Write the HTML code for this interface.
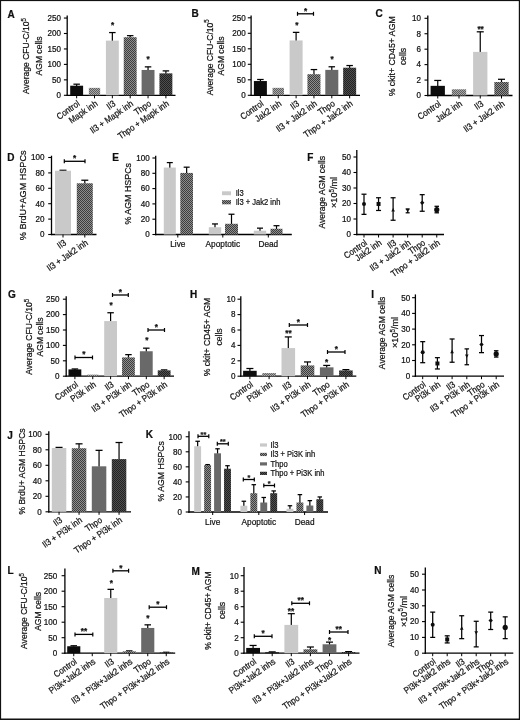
<!DOCTYPE html>
<html lang="en"><head><meta charset="utf-8"><title>Figure</title>
<style>
html,body{margin:0;padding:0;background:#fff;}
body{width:520px;height:720px;overflow:hidden;}
svg{display:block;}
svg text{font-family:"Liberation Sans", Arial, Helvetica, sans-serif;fill:#111;stroke:#111;stroke-width:0.22px;}
</style></head><body>
<svg width="520" height="720" viewBox="0 0 520 720">
<defs>
<filter id="soft" x="0" y="0" width="520" height="720" filterUnits="userSpaceOnUse"><feGaussianBlur stdDeviation="0.35"/></filter>
<pattern id="pInh" width="2" height="2" patternUnits="userSpaceOnUse"><rect width="2" height="2" fill="#a8a8a8"/><rect width="1" height="1" fill="#5e5e5e"/><rect x="1" y="1" width="1" height="1" fill="#5e5e5e"/></pattern>
<pattern id="pIl3i" width="2" height="2" patternUnits="userSpaceOnUse"><rect width="2" height="2" fill="#8e8e8e"/><rect width="1" height="1" fill="#3c3c3c"/><rect x="1" y="1" width="1" height="1" fill="#3c3c3c"/></pattern>
<pattern id="pThpoi" width="2" height="2" patternUnits="userSpaceOnUse"><rect width="2" height="2" fill="#505050"/><rect width="1" height="1" fill="#222"/><rect x="1" y="1" width="1" height="1" fill="#222"/></pattern>
</defs>
<rect x="0" y="0" width="520" height="720" fill="#fff"/>
<g filter="url(#soft)">
<text transform="translate(7.40 17.80) scale(1 1)" font-size="10" text-anchor="start" font-weight="bold">A</text>
<line x1="67.20" y1="15.50" x2="67.20" y2="95.95" stroke="#000" stroke-width="1.3"/>
<line x1="66.55" y1="95.30" x2="175.50" y2="95.30" stroke="#000" stroke-width="1.3"/>
<line x1="63.90" y1="95.30" x2="67.20" y2="95.30" stroke="#000" stroke-width="1.1"/>
<text transform="translate(61.00 98.10) scale(0.95 1)" font-size="8.5" text-anchor="end">0</text>
<line x1="63.90" y1="79.85" x2="67.20" y2="79.85" stroke="#000" stroke-width="1.1"/>
<text transform="translate(61.00 82.65) scale(0.95 1)" font-size="8.5" text-anchor="end">50</text>
<line x1="63.90" y1="64.40" x2="67.20" y2="64.40" stroke="#000" stroke-width="1.1"/>
<text transform="translate(61.00 67.20) scale(0.95 1)" font-size="8.5" text-anchor="end">100</text>
<line x1="63.90" y1="48.95" x2="67.20" y2="48.95" stroke="#000" stroke-width="1.1"/>
<text transform="translate(61.00 51.75) scale(0.95 1)" font-size="8.5" text-anchor="end">150</text>
<line x1="63.90" y1="33.50" x2="67.20" y2="33.50" stroke="#000" stroke-width="1.1"/>
<text transform="translate(61.00 36.30) scale(0.95 1)" font-size="8.5" text-anchor="end">200</text>
<line x1="63.90" y1="18.05" x2="67.20" y2="18.05" stroke="#000" stroke-width="1.1"/>
<text transform="translate(61.00 20.85) scale(0.95 1)" font-size="8.5" text-anchor="end">250</text>
<line x1="76.65" y1="84.18" x2="76.65" y2="86.22" stroke="#000" stroke-width="1.2"/>
<line x1="73.40" y1="84.18" x2="79.90" y2="84.18" stroke="#000" stroke-width="1.25"/>
<rect x="70.20" y="85.72" width="12.90" height="9.58" fill="#0c0c0c"/>
<line x1="76.65" y1="95.30" x2="76.65" y2="98.30" stroke="#000" stroke-width="1.0"/>
<text transform="translate(80.45 105.00) rotate(-35) scale(0.895 1)" font-size="9.0" text-anchor="end">Control</text>
<rect x="88.85" y="87.88" width="11.30" height="7.42" fill="url(#pInh)"/>
<line x1="94.50" y1="95.30" x2="94.50" y2="98.30" stroke="#000" stroke-width="1.0"/>
<text transform="translate(98.30 105.00) rotate(-35) scale(0.895 1)" font-size="9.0" text-anchor="end">Mapk inh</text>
<line x1="112.35" y1="32.57" x2="112.35" y2="41.11" stroke="#000" stroke-width="1.2"/>
<line x1="109.10" y1="32.57" x2="115.60" y2="32.57" stroke="#000" stroke-width="1.25"/>
<rect x="105.90" y="40.61" width="12.90" height="54.69" fill="#c9c9c9"/>
<line x1="112.35" y1="95.30" x2="112.35" y2="98.30" stroke="#000" stroke-width="1.0"/>
<text transform="translate(116.15 105.00) rotate(-35) scale(0.895 1)" font-size="9.0" text-anchor="end">Il3</text>
<line x1="130.20" y1="35.66" x2="130.20" y2="37.71" stroke="#000" stroke-width="1.2"/>
<line x1="126.95" y1="35.66" x2="133.45" y2="35.66" stroke="#000" stroke-width="1.25"/>
<rect x="123.75" y="37.21" width="12.90" height="58.09" fill="url(#pIl3i)"/>
<line x1="130.20" y1="95.30" x2="130.20" y2="98.30" stroke="#000" stroke-width="1.0"/>
<text transform="translate(134.00 105.00) rotate(-35) scale(0.895 1)" font-size="9.0" text-anchor="end">Il3 + Mapk inh</text>
<line x1="148.05" y1="66.87" x2="148.05" y2="70.46" stroke="#000" stroke-width="1.2"/>
<line x1="144.80" y1="66.87" x2="151.30" y2="66.87" stroke="#000" stroke-width="1.25"/>
<rect x="141.60" y="69.96" width="12.90" height="25.34" fill="#696969"/>
<line x1="148.05" y1="95.30" x2="148.05" y2="98.30" stroke="#000" stroke-width="1.0"/>
<text transform="translate(151.85 105.00) rotate(-35) scale(0.895 1)" font-size="9.0" text-anchor="end">Thpo</text>
<line x1="165.90" y1="70.89" x2="165.90" y2="73.86" stroke="#000" stroke-width="1.2"/>
<line x1="162.65" y1="70.89" x2="169.15" y2="70.89" stroke="#000" stroke-width="1.25"/>
<rect x="159.45" y="73.36" width="12.90" height="21.94" fill="url(#pThpoi)"/>
<line x1="165.90" y1="95.30" x2="165.90" y2="98.30" stroke="#000" stroke-width="1.0"/>
<text transform="translate(169.70 105.00) rotate(-35) scale(0.895 1)" font-size="9.0" text-anchor="end">Thpo + Mapk inh</text>
<text transform="translate(112.50 27.90) scale(1 1)" font-size="8.2" text-anchor="middle" font-weight="bold">*</text>
<text transform="translate(148.00 62.40) scale(1 1)" font-size="8.2" text-anchor="middle" font-weight="bold">*</text>
<text transform="translate(29.30 56.00) rotate(-90) scale(0.93 1)" font-size="9.2" text-anchor="middle">Average CFU-C/10<tspan font-size="6.4" dy="-3.2">5</tspan></text>
<text transform="translate(42.20 56.00) rotate(-90) scale(0.93 1)" font-size="9.2" text-anchor="middle">AGM cells</text>
<text transform="translate(191.50 17.30) scale(1 1)" font-size="10" text-anchor="start" font-weight="bold">B</text>
<line x1="251.10" y1="15.50" x2="251.10" y2="95.95" stroke="#000" stroke-width="1.3"/>
<line x1="250.45" y1="95.30" x2="360.00" y2="95.30" stroke="#000" stroke-width="1.3"/>
<line x1="247.80" y1="95.30" x2="251.10" y2="95.30" stroke="#000" stroke-width="1.1"/>
<text transform="translate(245.80 98.10) scale(0.95 1)" font-size="8.5" text-anchor="end">0</text>
<line x1="247.80" y1="79.80" x2="251.10" y2="79.80" stroke="#000" stroke-width="1.1"/>
<text transform="translate(245.80 82.60) scale(0.95 1)" font-size="8.5" text-anchor="end">50</text>
<line x1="247.80" y1="64.30" x2="251.10" y2="64.30" stroke="#000" stroke-width="1.1"/>
<text transform="translate(245.80 67.10) scale(0.95 1)" font-size="8.5" text-anchor="end">100</text>
<line x1="247.80" y1="48.80" x2="251.10" y2="48.80" stroke="#000" stroke-width="1.1"/>
<text transform="translate(245.80 51.60) scale(0.95 1)" font-size="8.5" text-anchor="end">150</text>
<line x1="247.80" y1="33.30" x2="251.10" y2="33.30" stroke="#000" stroke-width="1.1"/>
<text transform="translate(245.80 36.10) scale(0.95 1)" font-size="8.5" text-anchor="end">200</text>
<line x1="247.80" y1="17.80" x2="251.10" y2="17.80" stroke="#000" stroke-width="1.1"/>
<text transform="translate(245.80 20.60) scale(0.95 1)" font-size="8.5" text-anchor="end">250</text>
<line x1="260.40" y1="79.49" x2="260.40" y2="81.54" stroke="#000" stroke-width="1.2"/>
<line x1="257.15" y1="79.49" x2="263.65" y2="79.49" stroke="#000" stroke-width="1.25"/>
<rect x="253.90" y="81.04" width="13.00" height="14.26" fill="#0c0c0c"/>
<line x1="260.40" y1="95.30" x2="260.40" y2="98.30" stroke="#000" stroke-width="1.0"/>
<text transform="translate(264.20 105.00) rotate(-35) scale(0.895 1)" font-size="9.0" text-anchor="end">Control</text>
<rect x="272.55" y="87.86" width="11.40" height="7.44" fill="url(#pInh)"/>
<line x1="278.25" y1="95.30" x2="278.25" y2="98.30" stroke="#000" stroke-width="1.0"/>
<text transform="translate(282.05 105.00) rotate(-35) scale(0.895 1)" font-size="9.0" text-anchor="end">Jak2 inh</text>
<line x1="296.10" y1="32.37" x2="296.10" y2="40.93" stroke="#000" stroke-width="1.2"/>
<line x1="292.85" y1="32.37" x2="299.35" y2="32.37" stroke="#000" stroke-width="1.25"/>
<rect x="289.60" y="40.43" width="13.00" height="54.87" fill="#c9c9c9"/>
<line x1="296.10" y1="95.30" x2="296.10" y2="98.30" stroke="#000" stroke-width="1.0"/>
<text transform="translate(299.90 105.00) rotate(-35) scale(0.895 1)" font-size="9.0" text-anchor="end">Il3</text>
<line x1="313.95" y1="69.57" x2="313.95" y2="74.72" stroke="#000" stroke-width="1.2"/>
<line x1="310.70" y1="69.57" x2="317.20" y2="69.57" stroke="#000" stroke-width="1.25"/>
<rect x="307.45" y="74.22" width="13.00" height="21.08" fill="url(#pIl3i)"/>
<line x1="313.95" y1="95.30" x2="313.95" y2="98.30" stroke="#000" stroke-width="1.0"/>
<text transform="translate(317.75 105.00) rotate(-35) scale(0.895 1)" font-size="9.0" text-anchor="end">Il3 + Jak2 inh</text>
<line x1="331.80" y1="66.78" x2="331.80" y2="70.38" stroke="#000" stroke-width="1.2"/>
<line x1="328.55" y1="66.78" x2="335.05" y2="66.78" stroke="#000" stroke-width="1.25"/>
<rect x="325.30" y="69.88" width="13.00" height="25.42" fill="#696969"/>
<line x1="331.80" y1="95.30" x2="331.80" y2="98.30" stroke="#000" stroke-width="1.0"/>
<text transform="translate(335.60 105.00) rotate(-35) scale(0.895 1)" font-size="9.0" text-anchor="end">Thpo</text>
<line x1="349.65" y1="65.54" x2="349.65" y2="68.21" stroke="#000" stroke-width="1.2"/>
<line x1="346.40" y1="65.54" x2="352.90" y2="65.54" stroke="#000" stroke-width="1.25"/>
<rect x="343.15" y="67.71" width="13.00" height="27.59" fill="url(#pThpoi)"/>
<line x1="349.65" y1="95.30" x2="349.65" y2="98.30" stroke="#000" stroke-width="1.0"/>
<text transform="translate(353.45 105.00) rotate(-35) scale(0.895 1)" font-size="9.0" text-anchor="end">Thpo + Jak2 inh</text>
<text transform="translate(296.80 27.90) scale(1 1)" font-size="8.2" text-anchor="middle" font-weight="bold">*</text>
<text transform="translate(332.00 62.40) scale(1 1)" font-size="8.2" text-anchor="middle" font-weight="bold">*</text>
<line x1="297.50" y1="13.80" x2="313.50" y2="13.80" stroke="#000" stroke-width="1.3"/>
<line x1="297.50" y1="11.80" x2="297.50" y2="15.80" stroke="#000" stroke-width="1.2"/>
<line x1="313.50" y1="11.80" x2="313.50" y2="15.80" stroke="#000" stroke-width="1.2"/>
<text transform="translate(305.50 13.50) scale(1 1)" font-size="8.2" text-anchor="middle" font-weight="bold">*</text>
<text transform="translate(212.50 57.30) rotate(-90) scale(0.93 1)" font-size="9.2" text-anchor="middle">Average CFU-C/10<tspan font-size="6.4" dy="-3.2">5</tspan></text>
<text transform="translate(224.40 56.00) rotate(-90) scale(0.93 1)" font-size="9.2" text-anchor="middle">AGM cells</text>
<text transform="translate(375.50 17.30) scale(1 1)" font-size="10" text-anchor="start" font-weight="bold">C</text>
<line x1="427.80" y1="15.50" x2="427.80" y2="96.15" stroke="#000" stroke-width="1.3"/>
<line x1="427.15" y1="95.50" x2="512.50" y2="95.50" stroke="#000" stroke-width="1.3"/>
<line x1="424.50" y1="95.50" x2="427.80" y2="95.50" stroke="#000" stroke-width="1.1"/>
<text transform="translate(421.10 98.30) scale(0.95 1)" font-size="8.5" text-anchor="end">0</text>
<line x1="424.50" y1="80.06" x2="427.80" y2="80.06" stroke="#000" stroke-width="1.1"/>
<text transform="translate(421.10 82.86) scale(0.95 1)" font-size="8.5" text-anchor="end">2</text>
<line x1="424.50" y1="64.62" x2="427.80" y2="64.62" stroke="#000" stroke-width="1.1"/>
<text transform="translate(421.10 67.42) scale(0.95 1)" font-size="8.5" text-anchor="end">4</text>
<line x1="424.50" y1="49.18" x2="427.80" y2="49.18" stroke="#000" stroke-width="1.1"/>
<text transform="translate(421.10 51.98) scale(0.95 1)" font-size="8.5" text-anchor="end">6</text>
<line x1="424.50" y1="33.74" x2="427.80" y2="33.74" stroke="#000" stroke-width="1.1"/>
<text transform="translate(421.10 36.54) scale(0.95 1)" font-size="8.5" text-anchor="end">8</text>
<line x1="424.50" y1="18.30" x2="427.80" y2="18.30" stroke="#000" stroke-width="1.1"/>
<text transform="translate(421.10 21.10) scale(0.95 1)" font-size="8.5" text-anchor="end">10</text>
<line x1="437.75" y1="80.45" x2="437.75" y2="86.35" stroke="#000" stroke-width="1.2"/>
<line x1="434.25" y1="80.45" x2="441.25" y2="80.45" stroke="#000" stroke-width="1.25"/>
<rect x="430.60" y="85.85" width="14.30" height="9.65" fill="#0c0c0c"/>
<line x1="437.75" y1="95.50" x2="437.75" y2="98.50" stroke="#000" stroke-width="1.0"/>
<text transform="translate(441.55 105.20) rotate(-35) scale(0.895 1)" font-size="9.0" text-anchor="end">Control</text>
<rect x="451.85" y="89.32" width="14.30" height="6.18" fill="url(#pInh)"/>
<line x1="459.00" y1="95.50" x2="459.00" y2="98.50" stroke="#000" stroke-width="1.0"/>
<text transform="translate(462.80 105.20) rotate(-35) scale(0.895 1)" font-size="9.0" text-anchor="end">Jak2 inh</text>
<line x1="480.25" y1="31.81" x2="480.25" y2="52.38" stroke="#000" stroke-width="1.2"/>
<line x1="476.75" y1="31.81" x2="483.75" y2="31.81" stroke="#000" stroke-width="1.25"/>
<rect x="473.10" y="51.88" width="14.30" height="43.62" fill="#c9c9c9"/>
<line x1="480.25" y1="95.50" x2="480.25" y2="98.50" stroke="#000" stroke-width="1.0"/>
<text transform="translate(484.05 105.20) rotate(-35) scale(0.895 1)" font-size="9.0" text-anchor="end">Il3</text>
<line x1="501.50" y1="79.29" x2="501.50" y2="82.49" stroke="#000" stroke-width="1.2"/>
<line x1="498.00" y1="79.29" x2="505.00" y2="79.29" stroke="#000" stroke-width="1.25"/>
<rect x="494.35" y="81.99" width="14.30" height="13.51" fill="url(#pIl3i)"/>
<line x1="501.50" y1="95.50" x2="501.50" y2="98.50" stroke="#000" stroke-width="1.0"/>
<text transform="translate(505.30 105.20) rotate(-35) scale(0.895 1)" font-size="9.0" text-anchor="end">Il3 + Jak2 inh</text>
<text transform="translate(480.60 31.90) scale(1 1)" font-size="8.2" text-anchor="middle" font-weight="bold">**</text>
<text transform="translate(395.20 56.30) rotate(-90) scale(0.95 1)" font-size="9.2" text-anchor="middle">% ckit+ CD45+ AGM</text>
<text transform="translate(406.20 56.50) rotate(-90) scale(0.93 1)" font-size="9.2" text-anchor="middle">cells</text>
<text transform="translate(7.30 160.80) scale(1 1)" font-size="10" text-anchor="start" font-weight="bold">D</text>
<line x1="51.50" y1="155.70" x2="51.50" y2="235.15" stroke="#000" stroke-width="1.3"/>
<line x1="50.85" y1="234.50" x2="96.50" y2="234.50" stroke="#000" stroke-width="1.3"/>
<line x1="48.20" y1="234.50" x2="51.50" y2="234.50" stroke="#000" stroke-width="1.1"/>
<text transform="translate(44.50 237.30) scale(0.95 1)" font-size="8.5" text-anchor="end">0</text>
<line x1="48.20" y1="219.10" x2="51.50" y2="219.10" stroke="#000" stroke-width="1.1"/>
<text transform="translate(44.50 221.90) scale(0.95 1)" font-size="8.5" text-anchor="end">20</text>
<line x1="48.20" y1="203.70" x2="51.50" y2="203.70" stroke="#000" stroke-width="1.1"/>
<text transform="translate(44.50 206.50) scale(0.95 1)" font-size="8.5" text-anchor="end">40</text>
<line x1="48.20" y1="188.30" x2="51.50" y2="188.30" stroke="#000" stroke-width="1.1"/>
<text transform="translate(44.50 191.10) scale(0.95 1)" font-size="8.5" text-anchor="end">60</text>
<line x1="48.20" y1="172.90" x2="51.50" y2="172.90" stroke="#000" stroke-width="1.1"/>
<text transform="translate(44.50 175.70) scale(0.95 1)" font-size="8.5" text-anchor="end">80</text>
<line x1="48.20" y1="157.50" x2="51.50" y2="157.50" stroke="#000" stroke-width="1.1"/>
<text transform="translate(44.50 160.30) scale(0.95 1)" font-size="8.5" text-anchor="end">100</text>
<line x1="63.00" y1="170.28" x2="63.00" y2="171.24" stroke="#000" stroke-width="1.2"/>
<line x1="59.50" y1="170.28" x2="66.50" y2="170.28" stroke="#000" stroke-width="1.25"/>
<rect x="55.00" y="170.74" width="16.00" height="63.76" fill="#c9c9c9"/>
<line x1="63.00" y1="234.50" x2="63.00" y2="237.50" stroke="#000" stroke-width="1.0"/>
<text transform="translate(66.80 244.20) rotate(-35) scale(0.895 1)" font-size="9.0" text-anchor="end">Il3</text>
<line x1="84.80" y1="180.22" x2="84.80" y2="183.80" stroke="#000" stroke-width="1.2"/>
<line x1="81.30" y1="180.22" x2="88.30" y2="180.22" stroke="#000" stroke-width="1.25"/>
<rect x="76.80" y="183.30" width="16.00" height="51.20" fill="url(#pIl3i)"/>
<line x1="84.80" y1="234.50" x2="84.80" y2="237.50" stroke="#000" stroke-width="1.0"/>
<text transform="translate(88.60 244.20) rotate(-35) scale(0.895 1)" font-size="9.0" text-anchor="end">Il3 + Jak2 inh</text>
<line x1="64.30" y1="161.30" x2="85.00" y2="161.30" stroke="#000" stroke-width="1.3"/>
<line x1="64.30" y1="159.30" x2="64.30" y2="163.30" stroke="#000" stroke-width="1.2"/>
<line x1="85.00" y1="159.30" x2="85.00" y2="163.30" stroke="#000" stroke-width="1.2"/>
<text transform="translate(74.65 161.00) scale(1 1)" font-size="8.2" text-anchor="middle" font-weight="bold">*</text>
<text transform="translate(25.50 195.30) rotate(-90) scale(0.99 1)" font-size="9.2" text-anchor="middle">% BrdU+AGM HSPCs</text>
<text transform="translate(112.30 161.00) scale(1 1)" font-size="10" text-anchor="start" font-weight="bold">E</text>
<line x1="155.70" y1="155.70" x2="155.70" y2="235.15" stroke="#000" stroke-width="1.3"/>
<line x1="155.05" y1="234.50" x2="291.80" y2="234.50" stroke="#000" stroke-width="1.3"/>
<line x1="152.40" y1="234.50" x2="155.70" y2="234.50" stroke="#000" stroke-width="1.1"/>
<text transform="translate(149.80 237.30) scale(0.95 1)" font-size="8.5" text-anchor="end">0</text>
<line x1="152.40" y1="219.20" x2="155.70" y2="219.20" stroke="#000" stroke-width="1.1"/>
<text transform="translate(149.80 222.00) scale(0.95 1)" font-size="8.5" text-anchor="end">20</text>
<line x1="152.40" y1="203.90" x2="155.70" y2="203.90" stroke="#000" stroke-width="1.1"/>
<text transform="translate(149.80 206.70) scale(0.95 1)" font-size="8.5" text-anchor="end">40</text>
<line x1="152.40" y1="188.60" x2="155.70" y2="188.60" stroke="#000" stroke-width="1.1"/>
<text transform="translate(149.80 191.40) scale(0.95 1)" font-size="8.5" text-anchor="end">60</text>
<line x1="152.40" y1="173.30" x2="155.70" y2="173.30" stroke="#000" stroke-width="1.1"/>
<text transform="translate(149.80 176.10) scale(0.95 1)" font-size="8.5" text-anchor="end">80</text>
<line x1="152.40" y1="158.00" x2="155.70" y2="158.00" stroke="#000" stroke-width="1.1"/>
<text transform="translate(149.80 160.80) scale(0.95 1)" font-size="8.5" text-anchor="end">100</text>
<line x1="169.80" y1="162.59" x2="169.80" y2="168.06" stroke="#000" stroke-width="1.2"/>
<line x1="166.80" y1="162.59" x2="172.80" y2="162.59" stroke="#000" stroke-width="1.25"/>
<rect x="163.80" y="167.56" width="12.00" height="66.94" fill="#c9c9c9"/>
<line x1="186.65" y1="167.18" x2="186.65" y2="173.42" stroke="#000" stroke-width="1.2"/>
<line x1="183.65" y1="167.18" x2="189.65" y2="167.18" stroke="#000" stroke-width="1.25"/>
<rect x="180.30" y="172.92" width="12.70" height="61.58" fill="url(#pIl3i)"/>
<line x1="215.00" y1="223.94" x2="215.00" y2="227.73" stroke="#000" stroke-width="1.2"/>
<line x1="212.00" y1="223.94" x2="218.00" y2="223.94" stroke="#000" stroke-width="1.25"/>
<rect x="208.80" y="227.23" width="12.40" height="7.27" fill="#c9c9c9"/>
<line x1="231.50" y1="214.23" x2="231.50" y2="224.29" stroke="#000" stroke-width="1.2"/>
<line x1="228.50" y1="214.23" x2="234.50" y2="214.23" stroke="#000" stroke-width="1.25"/>
<rect x="225.00" y="223.79" width="13.00" height="10.71" fill="url(#pIl3i)"/>
<line x1="260.00" y1="228.15" x2="260.00" y2="231.18" stroke="#000" stroke-width="1.2"/>
<line x1="257.00" y1="228.15" x2="263.00" y2="228.15" stroke="#000" stroke-width="1.25"/>
<rect x="253.80" y="230.68" width="12.40" height="3.82" fill="#c9c9c9"/>
<line x1="276.50" y1="225.70" x2="276.50" y2="229.26" stroke="#000" stroke-width="1.2"/>
<line x1="273.50" y1="225.70" x2="279.50" y2="225.70" stroke="#000" stroke-width="1.25"/>
<rect x="270.50" y="228.76" width="12.00" height="5.74" fill="url(#pIl3i)"/>
<line x1="177.80" y1="234.50" x2="177.80" y2="237.50" stroke="#000" stroke-width="1.0"/>
<text transform="translate(177.80 246.50) scale(0.94 1)" font-size="8.8" text-anchor="middle">Live</text>
<line x1="222.80" y1="234.50" x2="222.80" y2="237.50" stroke="#000" stroke-width="1.0"/>
<text transform="translate(222.80 246.50) scale(0.94 1)" font-size="8.8" text-anchor="middle">Apoptotic</text>
<line x1="268.30" y1="234.50" x2="268.30" y2="237.50" stroke="#000" stroke-width="1.0"/>
<text transform="translate(268.30 246.50) scale(0.94 1)" font-size="8.8" text-anchor="middle">Dead</text>
<rect x="222" y="191.3" width="9" height="3.9" fill="#c9c9c9"/>
<rect x="222" y="200.1" width="9" height="4.2" fill="url(#pIl3i)"/>
<text transform="translate(235.70 196.00) scale(0.9 1)" font-size="8.4" text-anchor="start">Il3</text>
<text transform="translate(235.70 204.90) scale(0.9 1)" font-size="8.4" text-anchor="start">Il3 + Jak2 inh</text>
<text transform="translate(131.20 193.80) rotate(-90) scale(0.965 1)" font-size="9.2" text-anchor="middle">% AGM HSPCs</text>
<text transform="translate(307.20 160.70) scale(1 1)" font-size="10" text-anchor="start" font-weight="bold">F</text>
<line x1="356.80" y1="150.00" x2="356.80" y2="235.15" stroke="#000" stroke-width="1.3"/>
<line x1="356.15" y1="234.50" x2="444.00" y2="234.50" stroke="#000" stroke-width="1.3"/>
<line x1="353.50" y1="234.50" x2="356.80" y2="234.50" stroke="#000" stroke-width="1.1"/>
<text transform="translate(350.90 237.30) scale(0.95 1)" font-size="8.5" text-anchor="end">0</text>
<line x1="353.50" y1="219.00" x2="356.80" y2="219.00" stroke="#000" stroke-width="1.1"/>
<text transform="translate(350.90 221.80) scale(0.95 1)" font-size="8.5" text-anchor="end">10</text>
<line x1="353.50" y1="203.50" x2="356.80" y2="203.50" stroke="#000" stroke-width="1.1"/>
<text transform="translate(350.90 206.30) scale(0.95 1)" font-size="8.5" text-anchor="end">20</text>
<line x1="353.50" y1="188.00" x2="356.80" y2="188.00" stroke="#000" stroke-width="1.1"/>
<text transform="translate(350.90 190.80) scale(0.95 1)" font-size="8.5" text-anchor="end">30</text>
<line x1="353.50" y1="172.50" x2="356.80" y2="172.50" stroke="#000" stroke-width="1.1"/>
<text transform="translate(350.90 175.30) scale(0.95 1)" font-size="8.5" text-anchor="end">40</text>
<line x1="353.50" y1="157.00" x2="356.80" y2="157.00" stroke="#000" stroke-width="1.1"/>
<text transform="translate(350.90 159.80) scale(0.95 1)" font-size="8.5" text-anchor="end">50</text>
<line x1="364.00" y1="194.20" x2="364.00" y2="214.35" stroke="#000" stroke-width="1.25"/>
<line x1="361.50" y1="194.20" x2="366.50" y2="194.20" stroke="#000" stroke-width="1.25"/>
<line x1="361.50" y1="214.35" x2="366.50" y2="214.35" stroke="#000" stroke-width="1.25"/>
<circle cx="364.00" cy="203.97" r="2.0" fill="#111"/>
<line x1="364.00" y1="234.50" x2="364.00" y2="237.50" stroke="#000" stroke-width="1.0"/>
<text transform="translate(367.80 244.20) rotate(-35) scale(0.895 1)" font-size="9.0" text-anchor="end">Control</text>
<line x1="378.55" y1="197.76" x2="378.55" y2="210.47" stroke="#000" stroke-width="1.25"/>
<line x1="376.05" y1="197.76" x2="381.05" y2="197.76" stroke="#000" stroke-width="1.25"/>
<line x1="376.05" y1="210.47" x2="381.05" y2="210.47" stroke="#000" stroke-width="1.25"/>
<rect x="376.55" y="201.97" width="4.0" height="4.0" fill="#111"/>
<line x1="378.55" y1="234.50" x2="378.55" y2="237.50" stroke="#000" stroke-width="1.0"/>
<text transform="translate(382.35 244.20) rotate(-35) scale(0.895 1)" font-size="9.0" text-anchor="end">Jak2 inh</text>
<line x1="393.10" y1="197.76" x2="393.10" y2="220.24" stroke="#000" stroke-width="1.25"/>
<line x1="390.60" y1="197.76" x2="395.60" y2="197.76" stroke="#000" stroke-width="1.25"/>
<line x1="390.60" y1="220.24" x2="395.60" y2="220.24" stroke="#000" stroke-width="1.25"/>
<path d="M391.30 211.50L394.90 211.50L393.10 207.90Z" fill="#111"/>
<line x1="393.10" y1="234.50" x2="393.10" y2="237.50" stroke="#000" stroke-width="1.0"/>
<text transform="translate(396.90 244.20) rotate(-35) scale(0.895 1)" font-size="9.0" text-anchor="end">Il3</text>
<line x1="407.65" y1="208.93" x2="407.65" y2="212.80" stroke="#000" stroke-width="1.25"/>
<line x1="405.65" y1="208.93" x2="409.65" y2="208.93" stroke="#000" stroke-width="1.25"/>
<line x1="405.65" y1="212.80" x2="409.65" y2="212.80" stroke="#000" stroke-width="1.25"/>
<path d="M405.85 208.98L409.45 208.98L407.65 212.59Z" fill="#111"/>
<line x1="407.65" y1="234.50" x2="407.65" y2="237.50" stroke="#000" stroke-width="1.0"/>
<text transform="translate(411.45 244.20) rotate(-35) scale(0.895 1)" font-size="9.0" text-anchor="end">Il3 + Jak2 inh</text>
<line x1="422.20" y1="194.66" x2="422.20" y2="211.25" stroke="#000" stroke-width="1.25"/>
<line x1="419.70" y1="194.66" x2="424.70" y2="194.66" stroke="#000" stroke-width="1.25"/>
<line x1="419.70" y1="211.25" x2="424.70" y2="211.25" stroke="#000" stroke-width="1.25"/>
<path d="M420.00 202.72L422.20 200.53L424.40 202.72L422.20 204.92Z" fill="#111"/>
<line x1="422.20" y1="234.50" x2="422.20" y2="237.50" stroke="#000" stroke-width="1.0"/>
<text transform="translate(426.00 244.20) rotate(-35) scale(0.895 1)" font-size="9.0" text-anchor="end">Thpo</text>
<line x1="436.75" y1="206.29" x2="436.75" y2="212.80" stroke="#000" stroke-width="1.25"/>
<line x1="434.50" y1="206.29" x2="439.00" y2="206.29" stroke="#000" stroke-width="1.25"/>
<line x1="434.50" y1="212.80" x2="439.00" y2="212.80" stroke="#000" stroke-width="1.25"/>
<circle cx="436.75" cy="209.70" r="2.6" fill="#111"/>
<line x1="436.75" y1="234.50" x2="436.75" y2="237.50" stroke="#000" stroke-width="1.0"/>
<text transform="translate(440.55 244.20) rotate(-35) scale(0.895 1)" font-size="9.0" text-anchor="end">Thpo + Jak2 inh</text>
<text transform="translate(325.00 192.30) rotate(-90) scale(0.93 1)" font-size="9.2" text-anchor="middle">Average AGM cells</text>
<text transform="translate(337.20 192.40) rotate(-90) scale(0.99 1)" font-size="9.2" text-anchor="middle">×10<tspan font-size="6.4" dy="-3.2">5</tspan><tspan dy="3.2">/ml</tspan></text>
<text transform="translate(8.00 298.30) scale(1 1)" font-size="10" text-anchor="start" font-weight="bold">G</text>
<line x1="66.20" y1="296.30" x2="66.20" y2="376.85" stroke="#000" stroke-width="1.3"/>
<line x1="65.55" y1="376.20" x2="174.00" y2="376.20" stroke="#000" stroke-width="1.3"/>
<line x1="62.90" y1="376.20" x2="66.20" y2="376.20" stroke="#000" stroke-width="1.1"/>
<text transform="translate(59.40 379.00) scale(0.95 1)" font-size="8.5" text-anchor="end">0</text>
<line x1="62.90" y1="360.80" x2="66.20" y2="360.80" stroke="#000" stroke-width="1.1"/>
<text transform="translate(59.40 363.60) scale(0.95 1)" font-size="8.5" text-anchor="end">50</text>
<line x1="62.90" y1="345.40" x2="66.20" y2="345.40" stroke="#000" stroke-width="1.1"/>
<text transform="translate(59.40 348.20) scale(0.95 1)" font-size="8.5" text-anchor="end">100</text>
<line x1="62.90" y1="330.00" x2="66.20" y2="330.00" stroke="#000" stroke-width="1.1"/>
<text transform="translate(59.40 332.80) scale(0.95 1)" font-size="8.5" text-anchor="end">150</text>
<line x1="62.90" y1="314.60" x2="66.20" y2="314.60" stroke="#000" stroke-width="1.1"/>
<text transform="translate(59.40 317.40) scale(0.95 1)" font-size="8.5" text-anchor="end">200</text>
<line x1="62.90" y1="299.20" x2="66.20" y2="299.20" stroke="#000" stroke-width="1.1"/>
<text transform="translate(59.40 302.00) scale(0.95 1)" font-size="8.5" text-anchor="end">250</text>
<line x1="74.90" y1="368.96" x2="74.90" y2="369.92" stroke="#000" stroke-width="1.2"/>
<line x1="71.65" y1="368.96" x2="78.15" y2="368.96" stroke="#000" stroke-width="1.25"/>
<rect x="68.50" y="369.42" width="12.80" height="6.78" fill="#0c0c0c"/>
<line x1="74.90" y1="376.20" x2="74.90" y2="379.20" stroke="#000" stroke-width="1.0"/>
<text transform="translate(78.70 385.90) rotate(-35) scale(0.895 1)" font-size="9.0" text-anchor="end">Control</text>
<rect x="87.15" y="374.66" width="11.20" height="1.54" fill="url(#pInh)"/>
<line x1="92.75" y1="376.20" x2="92.75" y2="379.20" stroke="#000" stroke-width="1.0"/>
<text transform="translate(96.55 385.90) rotate(-35) scale(0.895 1)" font-size="9.0" text-anchor="end">Pi3k inh</text>
<line x1="110.60" y1="312.75" x2="110.60" y2="321.57" stroke="#000" stroke-width="1.2"/>
<line x1="107.35" y1="312.75" x2="113.85" y2="312.75" stroke="#000" stroke-width="1.25"/>
<rect x="104.20" y="321.07" width="12.80" height="55.13" fill="#c9c9c9"/>
<line x1="110.60" y1="376.20" x2="110.60" y2="379.20" stroke="#000" stroke-width="1.0"/>
<text transform="translate(114.40 385.90) rotate(-35) scale(0.895 1)" font-size="9.0" text-anchor="end">Il3</text>
<line x1="128.45" y1="354.64" x2="128.45" y2="357.91" stroke="#000" stroke-width="1.2"/>
<line x1="125.20" y1="354.64" x2="131.70" y2="354.64" stroke="#000" stroke-width="1.25"/>
<rect x="122.05" y="357.41" width="12.80" height="18.79" fill="url(#pIl3i)"/>
<line x1="128.45" y1="376.20" x2="128.45" y2="379.20" stroke="#000" stroke-width="1.0"/>
<text transform="translate(132.25 385.90) rotate(-35) scale(0.895 1)" font-size="9.0" text-anchor="end">Il3 + Pi3k inh</text>
<line x1="146.30" y1="348.17" x2="146.30" y2="351.75" stroke="#000" stroke-width="1.2"/>
<line x1="143.05" y1="348.17" x2="149.55" y2="348.17" stroke="#000" stroke-width="1.25"/>
<rect x="139.90" y="351.25" width="12.80" height="24.95" fill="#696969"/>
<line x1="146.30" y1="376.20" x2="146.30" y2="379.20" stroke="#000" stroke-width="1.0"/>
<text transform="translate(150.10 385.90) rotate(-35) scale(0.895 1)" font-size="9.0" text-anchor="end">Thpo</text>
<line x1="164.15" y1="369.89" x2="164.15" y2="370.85" stroke="#000" stroke-width="1.2"/>
<line x1="160.90" y1="369.89" x2="167.40" y2="369.89" stroke="#000" stroke-width="1.25"/>
<rect x="157.75" y="370.35" width="12.80" height="5.85" fill="url(#pThpoi)"/>
<line x1="164.15" y1="376.20" x2="164.15" y2="379.20" stroke="#000" stroke-width="1.0"/>
<text transform="translate(167.95 385.90) rotate(-35) scale(0.895 1)" font-size="9.0" text-anchor="end">Thpo + Pi3k inh</text>
<text transform="translate(111.00 308.40) scale(1 1)" font-size="8.2" text-anchor="middle" font-weight="bold">*</text>
<text transform="translate(146.80 343.20) scale(1 1)" font-size="8.2" text-anchor="middle" font-weight="bold">*</text>
<line x1="75.00" y1="357.50" x2="92.50" y2="357.50" stroke="#000" stroke-width="1.3"/>
<line x1="75.00" y1="355.50" x2="75.00" y2="359.50" stroke="#000" stroke-width="1.2"/>
<line x1="92.50" y1="355.50" x2="92.50" y2="359.50" stroke="#000" stroke-width="1.2"/>
<text transform="translate(83.75 357.20) scale(1 1)" font-size="8.2" text-anchor="middle" font-weight="bold">*</text>
<line x1="112.50" y1="295.00" x2="128.30" y2="295.00" stroke="#000" stroke-width="1.3"/>
<line x1="112.50" y1="293.00" x2="112.50" y2="297.00" stroke="#000" stroke-width="1.2"/>
<line x1="128.30" y1="293.00" x2="128.30" y2="297.00" stroke="#000" stroke-width="1.2"/>
<text transform="translate(120.40 294.70) scale(1 1)" font-size="8.2" text-anchor="middle" font-weight="bold">*</text>
<line x1="148.00" y1="330.00" x2="164.50" y2="330.00" stroke="#000" stroke-width="1.3"/>
<line x1="148.00" y1="328.00" x2="148.00" y2="332.00" stroke="#000" stroke-width="1.2"/>
<line x1="164.50" y1="328.00" x2="164.50" y2="332.00" stroke="#000" stroke-width="1.2"/>
<text transform="translate(156.25 329.70) scale(1 1)" font-size="8.2" text-anchor="middle" font-weight="bold">*</text>
<text transform="translate(31.90 336.80) rotate(-90) scale(0.93 1)" font-size="9.2" text-anchor="middle">Average CFU-C/10<tspan font-size="6.4" dy="-3.2">5</tspan></text>
<text transform="translate(42.90 337.00) rotate(-90) scale(0.93 1)" font-size="9.2" text-anchor="middle">AGM cells</text>
<text transform="translate(190.00 298.30) scale(1 1)" font-size="10" text-anchor="start" font-weight="bold">H</text>
<line x1="240.80" y1="296.30" x2="240.80" y2="376.85" stroke="#000" stroke-width="1.3"/>
<line x1="240.15" y1="376.20" x2="356.30" y2="376.20" stroke="#000" stroke-width="1.3"/>
<line x1="237.50" y1="376.20" x2="240.80" y2="376.20" stroke="#000" stroke-width="1.1"/>
<text transform="translate(235.60 379.00) scale(0.95 1)" font-size="8.5" text-anchor="end">0</text>
<line x1="237.50" y1="360.80" x2="240.80" y2="360.80" stroke="#000" stroke-width="1.1"/>
<text transform="translate(235.60 363.60) scale(0.95 1)" font-size="8.5" text-anchor="end">2</text>
<line x1="237.50" y1="345.40" x2="240.80" y2="345.40" stroke="#000" stroke-width="1.1"/>
<text transform="translate(235.60 348.20) scale(0.95 1)" font-size="8.5" text-anchor="end">4</text>
<line x1="237.50" y1="330.00" x2="240.80" y2="330.00" stroke="#000" stroke-width="1.1"/>
<text transform="translate(235.60 332.80) scale(0.95 1)" font-size="8.5" text-anchor="end">6</text>
<line x1="237.50" y1="314.60" x2="240.80" y2="314.60" stroke="#000" stroke-width="1.1"/>
<text transform="translate(235.60 317.40) scale(0.95 1)" font-size="8.5" text-anchor="end">8</text>
<line x1="237.50" y1="299.20" x2="240.80" y2="299.20" stroke="#000" stroke-width="1.1"/>
<text transform="translate(235.60 302.00) scale(0.95 1)" font-size="8.5" text-anchor="end">10</text>
<line x1="249.90" y1="368.50" x2="249.90" y2="371.31" stroke="#000" stroke-width="1.2"/>
<line x1="246.40" y1="368.50" x2="253.40" y2="368.50" stroke="#000" stroke-width="1.25"/>
<rect x="243.10" y="370.81" width="13.60" height="5.39" fill="#0c0c0c"/>
<line x1="249.90" y1="376.20" x2="249.90" y2="379.20" stroke="#000" stroke-width="1.0"/>
<text transform="translate(253.70 385.90) rotate(-35) scale(0.895 1)" font-size="9.0" text-anchor="end">Control</text>
<rect x="262.30" y="373.12" width="13.60" height="3.08" fill="url(#pInh)"/>
<line x1="269.10" y1="376.20" x2="269.10" y2="379.20" stroke="#000" stroke-width="1.0"/>
<text transform="translate(272.90 385.90) rotate(-35) scale(0.895 1)" font-size="9.0" text-anchor="end">Pi3k inh</text>
<line x1="288.30" y1="336.93" x2="288.30" y2="348.59" stroke="#000" stroke-width="1.2"/>
<line x1="284.80" y1="336.93" x2="291.80" y2="336.93" stroke="#000" stroke-width="1.25"/>
<rect x="281.50" y="348.09" width="13.60" height="28.11" fill="#c9c9c9"/>
<line x1="288.30" y1="376.20" x2="288.30" y2="379.20" stroke="#000" stroke-width="1.0"/>
<text transform="translate(292.10 385.90) rotate(-35) scale(0.895 1)" font-size="9.0" text-anchor="end">Il3</text>
<line x1="307.50" y1="361.95" x2="307.50" y2="365.92" stroke="#000" stroke-width="1.2"/>
<line x1="304.00" y1="361.95" x2="311.00" y2="361.95" stroke="#000" stroke-width="1.25"/>
<rect x="300.70" y="365.42" width="13.60" height="10.78" fill="url(#pIl3i)"/>
<line x1="307.50" y1="376.20" x2="307.50" y2="379.20" stroke="#000" stroke-width="1.0"/>
<text transform="translate(311.30 385.90) rotate(-35) scale(0.895 1)" font-size="9.0" text-anchor="end">Il3 + Pi3k inh</text>
<line x1="326.70" y1="365.42" x2="326.70" y2="367.84" stroke="#000" stroke-width="1.2"/>
<line x1="323.20" y1="365.42" x2="330.20" y2="365.42" stroke="#000" stroke-width="1.25"/>
<rect x="319.90" y="367.34" width="13.60" height="8.86" fill="#696969"/>
<line x1="326.70" y1="376.20" x2="326.70" y2="379.20" stroke="#000" stroke-width="1.0"/>
<text transform="translate(330.50 385.90) rotate(-35) scale(0.895 1)" font-size="9.0" text-anchor="end">Thpo</text>
<line x1="345.90" y1="369.65" x2="345.90" y2="370.93" stroke="#000" stroke-width="1.2"/>
<line x1="342.40" y1="369.65" x2="349.40" y2="369.65" stroke="#000" stroke-width="1.25"/>
<rect x="339.10" y="370.43" width="13.60" height="5.77" fill="url(#pThpoi)"/>
<line x1="345.90" y1="376.20" x2="345.90" y2="379.20" stroke="#000" stroke-width="1.0"/>
<text transform="translate(349.70 385.90) rotate(-35) scale(0.895 1)" font-size="9.0" text-anchor="end">Thpo + Pi3k inh</text>
<text transform="translate(288.50 336.40) scale(1 1)" font-size="8.2" text-anchor="middle" font-weight="bold">**</text>
<text transform="translate(326.50 365.20) scale(1 1)" font-size="8.2" text-anchor="middle" font-weight="bold">*</text>
<line x1="289.30" y1="325.00" x2="307.50" y2="325.00" stroke="#000" stroke-width="1.3"/>
<line x1="289.30" y1="323.00" x2="289.30" y2="327.00" stroke="#000" stroke-width="1.2"/>
<line x1="307.50" y1="323.00" x2="307.50" y2="327.00" stroke="#000" stroke-width="1.2"/>
<text transform="translate(298.40 324.70) scale(1 1)" font-size="8.2" text-anchor="middle" font-weight="bold">*</text>
<line x1="327.50" y1="352.00" x2="345.00" y2="352.00" stroke="#000" stroke-width="1.3"/>
<line x1="327.50" y1="350.00" x2="327.50" y2="354.00" stroke="#000" stroke-width="1.2"/>
<line x1="345.00" y1="350.00" x2="345.00" y2="354.00" stroke="#000" stroke-width="1.2"/>
<text transform="translate(336.25 351.70) scale(1 1)" font-size="8.2" text-anchor="middle" font-weight="bold">*</text>
<text transform="translate(209.50 337.00) rotate(-90) scale(0.93 1)" font-size="9.2" text-anchor="middle">% ckit+ CD45+ AGM</text>
<text transform="translate(221.50 337.00) rotate(-90) scale(0.93 1)" font-size="9.2" text-anchor="middle">cells</text>
<text transform="translate(371.20 297.50) scale(1 1)" font-size="10" text-anchor="start" font-weight="bold">I</text>
<line x1="415.40" y1="294.40" x2="415.40" y2="376.85" stroke="#000" stroke-width="1.3"/>
<line x1="414.75" y1="376.20" x2="504.00" y2="376.20" stroke="#000" stroke-width="1.3"/>
<line x1="412.10" y1="376.20" x2="415.40" y2="376.20" stroke="#000" stroke-width="1.1"/>
<text transform="translate(410.20 379.00) scale(0.95 1)" font-size="8.5" text-anchor="end">0</text>
<line x1="412.10" y1="360.50" x2="415.40" y2="360.50" stroke="#000" stroke-width="1.1"/>
<text transform="translate(410.20 363.30) scale(0.95 1)" font-size="8.5" text-anchor="end">10</text>
<line x1="412.10" y1="344.80" x2="415.40" y2="344.80" stroke="#000" stroke-width="1.1"/>
<text transform="translate(410.20 347.60) scale(0.95 1)" font-size="8.5" text-anchor="end">20</text>
<line x1="412.10" y1="329.10" x2="415.40" y2="329.10" stroke="#000" stroke-width="1.1"/>
<text transform="translate(410.20 331.90) scale(0.95 1)" font-size="8.5" text-anchor="end">30</text>
<line x1="412.10" y1="313.40" x2="415.40" y2="313.40" stroke="#000" stroke-width="1.1"/>
<text transform="translate(410.20 316.20) scale(0.95 1)" font-size="8.5" text-anchor="end">40</text>
<line x1="412.10" y1="297.70" x2="415.40" y2="297.70" stroke="#000" stroke-width="1.1"/>
<text transform="translate(410.20 300.50) scale(0.95 1)" font-size="8.5" text-anchor="end">50</text>
<line x1="422.70" y1="341.66" x2="422.70" y2="362.70" stroke="#000" stroke-width="1.25"/>
<line x1="420.20" y1="341.66" x2="425.20" y2="341.66" stroke="#000" stroke-width="1.25"/>
<line x1="420.20" y1="362.70" x2="425.20" y2="362.70" stroke="#000" stroke-width="1.25"/>
<circle cx="422.70" cy="352.18" r="2.0" fill="#111"/>
<line x1="422.70" y1="376.20" x2="422.70" y2="379.20" stroke="#000" stroke-width="1.0"/>
<text transform="translate(426.50 385.90) rotate(-35) scale(0.895 1)" font-size="9.0" text-anchor="end">Control</text>
<line x1="437.40" y1="357.67" x2="437.40" y2="368.98" stroke="#000" stroke-width="1.25"/>
<line x1="434.90" y1="357.67" x2="439.90" y2="357.67" stroke="#000" stroke-width="1.25"/>
<line x1="434.90" y1="368.98" x2="439.90" y2="368.98" stroke="#000" stroke-width="1.25"/>
<rect x="435.40" y="361.48" width="4.0" height="4.0" fill="#111"/>
<line x1="437.40" y1="376.20" x2="437.40" y2="379.20" stroke="#000" stroke-width="1.0"/>
<text transform="translate(441.20 385.90) rotate(-35) scale(0.895 1)" font-size="9.0" text-anchor="end">Pi3k inh</text>
<line x1="452.10" y1="338.99" x2="452.10" y2="362.23" stroke="#000" stroke-width="1.25"/>
<line x1="449.60" y1="338.99" x2="454.60" y2="338.99" stroke="#000" stroke-width="1.25"/>
<line x1="449.60" y1="362.23" x2="454.60" y2="362.23" stroke="#000" stroke-width="1.25"/>
<path d="M450.30 353.19L453.90 353.19L452.10 349.59Z" fill="#111"/>
<line x1="452.10" y1="376.20" x2="452.10" y2="379.20" stroke="#000" stroke-width="1.0"/>
<text transform="translate(455.90 385.90) rotate(-35) scale(0.895 1)" font-size="9.0" text-anchor="end">Il3</text>
<line x1="466.80" y1="348.88" x2="466.80" y2="364.74" stroke="#000" stroke-width="1.25"/>
<line x1="464.55" y1="348.88" x2="469.05" y2="348.88" stroke="#000" stroke-width="1.25"/>
<line x1="464.55" y1="364.74" x2="469.05" y2="364.74" stroke="#000" stroke-width="1.25"/>
<path d="M465.00 354.46L468.60 354.46L466.80 358.06Z" fill="#111"/>
<line x1="466.80" y1="376.20" x2="466.80" y2="379.20" stroke="#000" stroke-width="1.0"/>
<text transform="translate(470.60 385.90) rotate(-35) scale(0.895 1)" font-size="9.0" text-anchor="end">Il3 + Pi3k inh</text>
<line x1="481.50" y1="335.54" x2="481.50" y2="352.65" stroke="#000" stroke-width="1.25"/>
<line x1="479.00" y1="335.54" x2="484.00" y2="335.54" stroke="#000" stroke-width="1.25"/>
<line x1="479.00" y1="352.65" x2="484.00" y2="352.65" stroke="#000" stroke-width="1.25"/>
<path d="M479.30 344.49L481.50 342.29L483.70 344.49L481.50 346.69Z" fill="#111"/>
<line x1="481.50" y1="376.20" x2="481.50" y2="379.20" stroke="#000" stroke-width="1.0"/>
<text transform="translate(485.30 385.90) rotate(-35) scale(0.895 1)" font-size="9.0" text-anchor="end">Thpo</text>
<line x1="496.20" y1="350.77" x2="496.20" y2="357.05" stroke="#000" stroke-width="1.25"/>
<line x1="493.95" y1="350.77" x2="498.45" y2="350.77" stroke="#000" stroke-width="1.25"/>
<line x1="493.95" y1="357.05" x2="498.45" y2="357.05" stroke="#000" stroke-width="1.25"/>
<circle cx="496.20" cy="353.91" r="2.6" fill="#111"/>
<line x1="496.20" y1="376.20" x2="496.20" y2="379.20" stroke="#000" stroke-width="1.0"/>
<text transform="translate(500.00 385.90) rotate(-35) scale(0.895 1)" font-size="9.0" text-anchor="end">Thpo + Pi3k inh</text>
<text transform="translate(385.10 332.90) rotate(-90) scale(0.93 1)" font-size="9.2" text-anchor="middle">Average AGM cells</text>
<text transform="translate(397.90 332.40) rotate(-90) scale(0.99 1)" font-size="9.2" text-anchor="middle">×10<tspan font-size="6.4" dy="-3.2">5</tspan><tspan dy="3.2">/ml</tspan></text>
<text transform="translate(7.20 438.90) scale(1 1)" font-size="10" text-anchor="start" font-weight="bold">J</text>
<line x1="48.80" y1="431.30" x2="48.80" y2="512.45" stroke="#000" stroke-width="1.3"/>
<line x1="48.15" y1="511.80" x2="131.00" y2="511.80" stroke="#000" stroke-width="1.3"/>
<line x1="45.50" y1="511.80" x2="48.80" y2="511.80" stroke="#000" stroke-width="1.1"/>
<text transform="translate(41.70 514.60) scale(0.95 1)" font-size="8.5" text-anchor="end">0</text>
<line x1="45.50" y1="496.30" x2="48.80" y2="496.30" stroke="#000" stroke-width="1.1"/>
<text transform="translate(41.70 499.10) scale(0.95 1)" font-size="8.5" text-anchor="end">20</text>
<line x1="45.50" y1="480.80" x2="48.80" y2="480.80" stroke="#000" stroke-width="1.1"/>
<text transform="translate(41.70 483.60) scale(0.95 1)" font-size="8.5" text-anchor="end">40</text>
<line x1="45.50" y1="465.30" x2="48.80" y2="465.30" stroke="#000" stroke-width="1.1"/>
<text transform="translate(41.70 468.10) scale(0.95 1)" font-size="8.5" text-anchor="end">60</text>
<line x1="45.50" y1="449.80" x2="48.80" y2="449.80" stroke="#000" stroke-width="1.1"/>
<text transform="translate(41.70 452.60) scale(0.95 1)" font-size="8.5" text-anchor="end">80</text>
<line x1="45.50" y1="434.30" x2="48.80" y2="434.30" stroke="#000" stroke-width="1.1"/>
<text transform="translate(41.70 437.10) scale(0.95 1)" font-size="8.5" text-anchor="end">100</text>
<line x1="59.05" y1="447.40" x2="59.05" y2="448.52" stroke="#000" stroke-width="1.2"/>
<line x1="55.55" y1="447.40" x2="62.55" y2="447.40" stroke="#000" stroke-width="1.25"/>
<rect x="51.80" y="448.02" width="14.50" height="63.78" fill="#c9c9c9"/>
<line x1="59.05" y1="511.80" x2="59.05" y2="514.80" stroke="#000" stroke-width="1.0"/>
<text transform="translate(62.85 521.50) rotate(-35) scale(0.895 1)" font-size="9.0" text-anchor="end">Il3</text>
<line x1="79.05" y1="443.83" x2="79.05" y2="448.75" stroke="#000" stroke-width="1.2"/>
<line x1="75.55" y1="443.83" x2="82.55" y2="443.83" stroke="#000" stroke-width="1.25"/>
<rect x="71.80" y="448.25" width="14.50" height="63.55" fill="url(#pIl3i)"/>
<line x1="79.05" y1="511.80" x2="79.05" y2="514.80" stroke="#000" stroke-width="1.0"/>
<text transform="translate(82.85 521.50) rotate(-35) scale(0.895 1)" font-size="9.0" text-anchor="end">Il3 + Pi3k inh</text>
<line x1="99.05" y1="450.34" x2="99.05" y2="466.81" stroke="#000" stroke-width="1.2"/>
<line x1="95.55" y1="450.34" x2="102.55" y2="450.34" stroke="#000" stroke-width="1.25"/>
<rect x="91.80" y="466.31" width="14.50" height="45.49" fill="#696969"/>
<line x1="99.05" y1="511.80" x2="99.05" y2="514.80" stroke="#000" stroke-width="1.0"/>
<text transform="translate(102.85 521.50) rotate(-35) scale(0.895 1)" font-size="9.0" text-anchor="end">Thpo</text>
<line x1="119.05" y1="442.51" x2="119.05" y2="459.60" stroke="#000" stroke-width="1.2"/>
<line x1="115.55" y1="442.51" x2="122.55" y2="442.51" stroke="#000" stroke-width="1.25"/>
<rect x="111.80" y="459.10" width="14.50" height="52.70" fill="url(#pThpoi)"/>
<line x1="119.05" y1="511.80" x2="119.05" y2="514.80" stroke="#000" stroke-width="1.0"/>
<text transform="translate(122.85 521.50) rotate(-35) scale(0.895 1)" font-size="9.0" text-anchor="end">Thpo + Pi3k inh</text>
<text transform="translate(24.50 471.50) rotate(-90) scale(0.93 1)" font-size="9.2" text-anchor="middle">% BrdU+ AGM HSPCs</text>
<text transform="translate(145.80 438.40) scale(1 1)" font-size="10" text-anchor="start" font-weight="bold">K</text>
<line x1="189.00" y1="431.30" x2="189.00" y2="512.65" stroke="#000" stroke-width="1.3"/>
<line x1="188.35" y1="512.00" x2="328.00" y2="512.00" stroke="#000" stroke-width="1.3"/>
<line x1="185.70" y1="512.00" x2="189.00" y2="512.00" stroke="#000" stroke-width="1.1"/>
<text transform="translate(181.90 514.80) scale(0.95 1)" font-size="8.5" text-anchor="end">0</text>
<line x1="185.70" y1="496.95" x2="189.00" y2="496.95" stroke="#000" stroke-width="1.1"/>
<text transform="translate(181.90 499.75) scale(0.95 1)" font-size="8.5" text-anchor="end">20</text>
<line x1="185.70" y1="481.90" x2="189.00" y2="481.90" stroke="#000" stroke-width="1.1"/>
<text transform="translate(181.90 484.70) scale(0.95 1)" font-size="8.5" text-anchor="end">40</text>
<line x1="185.70" y1="466.85" x2="189.00" y2="466.85" stroke="#000" stroke-width="1.1"/>
<text transform="translate(181.90 469.65) scale(0.95 1)" font-size="8.5" text-anchor="end">60</text>
<line x1="185.70" y1="451.80" x2="189.00" y2="451.80" stroke="#000" stroke-width="1.1"/>
<text transform="translate(181.90 454.60) scale(0.95 1)" font-size="8.5" text-anchor="end">80</text>
<line x1="185.70" y1="436.75" x2="189.00" y2="436.75" stroke="#000" stroke-width="1.1"/>
<text transform="translate(181.90 439.55) scale(0.95 1)" font-size="8.5" text-anchor="end">100</text>
<line x1="197.65" y1="441.26" x2="197.65" y2="446.73" stroke="#000" stroke-width="1.2"/>
<line x1="195.40" y1="441.26" x2="199.90" y2="441.26" stroke="#000" stroke-width="1.25"/>
<rect x="194.20" y="446.23" width="6.90" height="65.77" fill="#c9c9c9"/>
<line x1="207.60" y1="464.59" x2="207.60" y2="465.47" stroke="#000" stroke-width="1.2"/>
<line x1="205.35" y1="464.59" x2="209.85" y2="464.59" stroke="#000" stroke-width="1.25"/>
<rect x="204.15" y="464.97" width="6.90" height="47.03" fill="url(#pIl3i)"/>
<line x1="217.55" y1="448.79" x2="217.55" y2="453.81" stroke="#000" stroke-width="1.2"/>
<line x1="215.30" y1="448.79" x2="219.80" y2="448.79" stroke="#000" stroke-width="1.25"/>
<rect x="214.10" y="453.31" width="6.90" height="58.69" fill="#696969"/>
<line x1="227.50" y1="465.72" x2="227.50" y2="469.23" stroke="#000" stroke-width="1.2"/>
<line x1="225.25" y1="465.72" x2="229.75" y2="465.72" stroke="#000" stroke-width="1.25"/>
<rect x="224.05" y="468.73" width="6.90" height="43.27" fill="url(#pThpoi)"/>
<line x1="243.85" y1="501.24" x2="243.85" y2="506.25" stroke="#000" stroke-width="1.2"/>
<line x1="241.60" y1="501.24" x2="246.10" y2="501.24" stroke="#000" stroke-width="1.25"/>
<rect x="240.40" y="505.75" width="6.90" height="6.25" fill="#c9c9c9"/>
<line x1="253.80" y1="484.68" x2="253.80" y2="493.69" stroke="#000" stroke-width="1.2"/>
<line x1="251.55" y1="484.68" x2="256.05" y2="484.68" stroke="#000" stroke-width="1.25"/>
<rect x="250.35" y="493.19" width="6.90" height="18.81" fill="url(#pIl3i)"/>
<line x1="263.75" y1="497.48" x2="263.75" y2="503.02" stroke="#000" stroke-width="1.2"/>
<line x1="261.50" y1="497.48" x2="266.00" y2="497.48" stroke="#000" stroke-width="1.25"/>
<rect x="260.30" y="502.52" width="6.90" height="9.48" fill="#696969"/>
<line x1="273.70" y1="490.93" x2="273.70" y2="493.69" stroke="#000" stroke-width="1.2"/>
<line x1="271.45" y1="490.93" x2="275.95" y2="490.93" stroke="#000" stroke-width="1.25"/>
<rect x="270.25" y="493.19" width="6.90" height="18.81" fill="url(#pThpoi)"/>
<line x1="289.95" y1="505.75" x2="289.95" y2="509.26" stroke="#000" stroke-width="1.2"/>
<line x1="287.70" y1="505.75" x2="292.20" y2="505.75" stroke="#000" stroke-width="1.25"/>
<rect x="286.50" y="508.76" width="6.90" height="3.24" fill="#c9c9c9"/>
<line x1="299.90" y1="494.62" x2="299.90" y2="503.02" stroke="#000" stroke-width="1.2"/>
<line x1="297.65" y1="494.62" x2="302.15" y2="494.62" stroke="#000" stroke-width="1.25"/>
<rect x="296.45" y="502.52" width="6.90" height="9.48" fill="url(#pIl3i)"/>
<line x1="309.85" y1="500.64" x2="309.85" y2="506.03" stroke="#000" stroke-width="1.2"/>
<line x1="307.60" y1="500.64" x2="312.10" y2="500.64" stroke="#000" stroke-width="1.25"/>
<rect x="306.40" y="505.53" width="6.90" height="6.47" fill="#696969"/>
<line x1="319.80" y1="496.95" x2="319.80" y2="499.71" stroke="#000" stroke-width="1.2"/>
<line x1="317.55" y1="496.95" x2="322.05" y2="496.95" stroke="#000" stroke-width="1.25"/>
<rect x="316.35" y="499.21" width="6.90" height="12.79" fill="url(#pThpoi)"/>
<line x1="212.70" y1="512.00" x2="212.70" y2="515.00" stroke="#000" stroke-width="1.0"/>
<text transform="translate(212.70 524.50) scale(0.94 1)" font-size="8.8" text-anchor="middle">Live</text>
<line x1="258.80" y1="512.00" x2="258.80" y2="515.00" stroke="#000" stroke-width="1.0"/>
<text transform="translate(258.80 524.50) scale(0.94 1)" font-size="8.8" text-anchor="middle">Apoptotic</text>
<line x1="304.60" y1="512.00" x2="304.60" y2="515.00" stroke="#000" stroke-width="1.0"/>
<text transform="translate(304.60 524.50) scale(0.94 1)" font-size="8.8" text-anchor="middle">Dead</text>
<line x1="198.00" y1="436.30" x2="208.80" y2="436.30" stroke="#000" stroke-width="1.3"/>
<line x1="198.00" y1="434.30" x2="198.00" y2="438.30" stroke="#000" stroke-width="1.2"/>
<line x1="208.80" y1="434.30" x2="208.80" y2="438.30" stroke="#000" stroke-width="1.2"/>
<text transform="translate(203.40 436.82) scale(1 1)" font-size="7.2" text-anchor="middle" font-weight="bold">**</text>
<line x1="217.30" y1="443.80" x2="228.30" y2="443.80" stroke="#000" stroke-width="1.3"/>
<line x1="217.30" y1="441.80" x2="217.30" y2="445.80" stroke="#000" stroke-width="1.2"/>
<line x1="228.30" y1="441.80" x2="228.30" y2="445.80" stroke="#000" stroke-width="1.2"/>
<text transform="translate(222.80 444.32) scale(1 1)" font-size="7.2" text-anchor="middle" font-weight="bold">**</text>
<line x1="243.30" y1="479.50" x2="254.30" y2="479.50" stroke="#000" stroke-width="1.3"/>
<line x1="243.30" y1="477.50" x2="243.30" y2="481.50" stroke="#000" stroke-width="1.2"/>
<line x1="254.30" y1="477.50" x2="254.30" y2="481.50" stroke="#000" stroke-width="1.2"/>
<text transform="translate(248.80 480.02) scale(1 1)" font-size="7.2" text-anchor="middle" font-weight="bold">*</text>
<line x1="263.80" y1="485.50" x2="274.50" y2="485.50" stroke="#000" stroke-width="1.3"/>
<line x1="263.80" y1="483.50" x2="263.80" y2="487.50" stroke="#000" stroke-width="1.2"/>
<line x1="274.50" y1="483.50" x2="274.50" y2="487.50" stroke="#000" stroke-width="1.2"/>
<text transform="translate(269.15 486.02) scale(1 1)" font-size="7.2" text-anchor="middle" font-weight="bold">*</text>
<rect x="260" y="443.40" width="7" height="3.2" fill="#c9c9c9"/>
<text transform="translate(270.50 447.90) scale(0.9 1)" font-size="8.4" text-anchor="start">Il3</text>
<rect x="260" y="452.85" width="7" height="3.2" fill="url(#pIl3i)"/>
<text transform="translate(270.50 457.35) scale(0.9 1)" font-size="8.4" text-anchor="start">Il3 + Pi3K inh</text>
<rect x="260" y="462.30" width="7" height="3.2" fill="#696969"/>
<text transform="translate(270.50 466.80) scale(0.9 1)" font-size="8.4" text-anchor="start">Thpo</text>
<rect x="260" y="471.75" width="7" height="3.2" fill="url(#pThpoi)"/>
<text transform="translate(270.50 476.25) scale(0.9 1)" font-size="8.4" text-anchor="start">Thpo + Pi3K inh</text>
<text transform="translate(164.30 471.30) rotate(-90) scale(0.945 1)" font-size="9.2" text-anchor="middle">% AGM HSPCs</text>
<text transform="translate(7.60 574.10) scale(1 1)" font-size="10" text-anchor="start" font-weight="bold">L</text>
<line x1="64.90" y1="568.60" x2="64.90" y2="653.85" stroke="#000" stroke-width="1.3"/>
<line x1="64.25" y1="653.20" x2="175.20" y2="653.20" stroke="#000" stroke-width="1.3"/>
<line x1="61.60" y1="653.20" x2="64.90" y2="653.20" stroke="#000" stroke-width="1.1"/>
<text transform="translate(57.20 656.00) scale(0.95 1)" font-size="8.5" text-anchor="end">0</text>
<line x1="61.60" y1="637.70" x2="64.90" y2="637.70" stroke="#000" stroke-width="1.1"/>
<text transform="translate(57.20 640.50) scale(0.95 1)" font-size="8.5" text-anchor="end">50</text>
<line x1="61.60" y1="622.20" x2="64.90" y2="622.20" stroke="#000" stroke-width="1.1"/>
<text transform="translate(57.20 625.00) scale(0.95 1)" font-size="8.5" text-anchor="end">100</text>
<line x1="61.60" y1="606.70" x2="64.90" y2="606.70" stroke="#000" stroke-width="1.1"/>
<text transform="translate(57.20 609.50) scale(0.95 1)" font-size="8.5" text-anchor="end">150</text>
<line x1="61.60" y1="591.20" x2="64.90" y2="591.20" stroke="#000" stroke-width="1.1"/>
<text transform="translate(57.20 594.00) scale(0.95 1)" font-size="8.5" text-anchor="end">200</text>
<line x1="61.60" y1="575.70" x2="64.90" y2="575.70" stroke="#000" stroke-width="1.1"/>
<text transform="translate(57.20 578.50) scale(0.95 1)" font-size="8.5" text-anchor="end">250</text>
<line x1="73.75" y1="645.76" x2="73.75" y2="646.73" stroke="#000" stroke-width="1.2"/>
<line x1="70.50" y1="645.76" x2="77.00" y2="645.76" stroke="#000" stroke-width="1.25"/>
<rect x="67.20" y="646.23" width="13.10" height="6.98" fill="#0c0c0c"/>
<line x1="73.75" y1="653.20" x2="73.75" y2="656.20" stroke="#000" stroke-width="1.0"/>
<text transform="translate(77.55 662.90) rotate(-35) scale(0.895 1)" font-size="9.0" text-anchor="end">Control</text>
<line x1="92.25" y1="653.20" x2="92.25" y2="656.20" stroke="#000" stroke-width="1.0"/>
<text transform="translate(96.05 662.90) rotate(-35) scale(0.895 1)" font-size="9.0" text-anchor="end">Pi3k+Jak2 inhs</text>
<line x1="110.75" y1="589.34" x2="110.75" y2="598.52" stroke="#000" stroke-width="1.2"/>
<line x1="107.50" y1="589.34" x2="114.00" y2="589.34" stroke="#000" stroke-width="1.25"/>
<rect x="104.20" y="598.02" width="13.10" height="55.18" fill="#c9c9c9"/>
<line x1="110.75" y1="653.20" x2="110.75" y2="656.20" stroke="#000" stroke-width="1.0"/>
<text transform="translate(114.55 662.90) rotate(-35) scale(0.895 1)" font-size="9.0" text-anchor="end">Il3</text>
<line x1="129.25" y1="650.88" x2="129.25" y2="651.84" stroke="#000" stroke-width="1.2"/>
<line x1="126.00" y1="650.88" x2="132.50" y2="650.88" stroke="#000" stroke-width="1.25"/>
<rect x="122.70" y="651.34" width="13.10" height="1.86" fill="url(#pIl3i)"/>
<line x1="129.25" y1="653.20" x2="129.25" y2="656.20" stroke="#000" stroke-width="1.0"/>
<text transform="translate(133.05 662.90) rotate(-35) scale(0.895 1)" font-size="9.0" text-anchor="end">Il3 + Pi3k+Jak2 inhs</text>
<line x1="147.75" y1="624.84" x2="147.75" y2="628.44" stroke="#000" stroke-width="1.2"/>
<line x1="144.50" y1="624.84" x2="151.00" y2="624.84" stroke="#000" stroke-width="1.25"/>
<rect x="141.20" y="627.94" width="13.10" height="25.26" fill="#696969"/>
<line x1="147.75" y1="653.20" x2="147.75" y2="656.20" stroke="#000" stroke-width="1.0"/>
<text transform="translate(151.55 662.90) rotate(-35) scale(0.895 1)" font-size="9.0" text-anchor="end">Thpo</text>
<line x1="166.25" y1="652.27" x2="166.25" y2="652.93" stroke="#000" stroke-width="1.2"/>
<line x1="163.00" y1="652.27" x2="169.50" y2="652.27" stroke="#000" stroke-width="1.25"/>
<rect x="159.70" y="652.43" width="13.10" height="0.77" fill="url(#pThpoi)"/>
<line x1="166.25" y1="653.20" x2="166.25" y2="656.20" stroke="#000" stroke-width="1.0"/>
<text transform="translate(170.05 662.90) rotate(-35) scale(0.895 1)" font-size="9.0" text-anchor="end">Thpo + Pi3k+Jak2 inhs</text>
<text transform="translate(111.30 585.50) scale(1 1)" font-size="8.2" text-anchor="middle" font-weight="bold">*</text>
<text transform="translate(147.90 620.50) scale(1 1)" font-size="8.2" text-anchor="middle" font-weight="bold">*</text>
<line x1="75.00" y1="634.40" x2="92.80" y2="634.40" stroke="#000" stroke-width="1.3"/>
<line x1="75.00" y1="632.40" x2="75.00" y2="636.40" stroke="#000" stroke-width="1.2"/>
<line x1="92.80" y1="632.40" x2="92.80" y2="636.40" stroke="#000" stroke-width="1.2"/>
<text transform="translate(83.90 634.10) scale(1 1)" font-size="8.2" text-anchor="middle" font-weight="bold">**</text>
<line x1="112.90" y1="570.80" x2="128.60" y2="570.80" stroke="#000" stroke-width="1.3"/>
<line x1="112.90" y1="568.80" x2="112.90" y2="572.80" stroke="#000" stroke-width="1.2"/>
<line x1="128.60" y1="568.80" x2="128.60" y2="572.80" stroke="#000" stroke-width="1.2"/>
<text transform="translate(120.75 570.50) scale(1 1)" font-size="8.2" text-anchor="middle" font-weight="bold">*</text>
<line x1="149.20" y1="607.20" x2="166.50" y2="607.20" stroke="#000" stroke-width="1.3"/>
<line x1="149.20" y1="605.20" x2="149.20" y2="609.20" stroke="#000" stroke-width="1.2"/>
<line x1="166.50" y1="605.20" x2="166.50" y2="609.20" stroke="#000" stroke-width="1.2"/>
<text transform="translate(157.85 606.90) scale(1 1)" font-size="8.2" text-anchor="middle" font-weight="bold">*</text>
<text transform="translate(27.30 611.00) rotate(-90) scale(0.93 1)" font-size="9.2" text-anchor="middle">Average CFU-C/10<tspan font-size="6.4" dy="-3.2">5</tspan></text>
<text transform="translate(40.50 611.40) rotate(-90) scale(0.93 1)" font-size="9.2" text-anchor="middle">AGM cells</text>
<text transform="translate(191.60 574.60) scale(1 1)" font-size="10" text-anchor="start" font-weight="bold">M</text>
<line x1="244.00" y1="567.00" x2="244.00" y2="653.85" stroke="#000" stroke-width="1.3"/>
<line x1="243.35" y1="653.20" x2="359.50" y2="653.20" stroke="#000" stroke-width="1.3"/>
<line x1="240.70" y1="653.20" x2="244.00" y2="653.20" stroke="#000" stroke-width="1.1"/>
<text transform="translate(238.80 656.00) scale(0.95 1)" font-size="8.5" text-anchor="end">0</text>
<line x1="240.70" y1="637.70" x2="244.00" y2="637.70" stroke="#000" stroke-width="1.1"/>
<text transform="translate(238.80 640.50) scale(0.95 1)" font-size="8.5" text-anchor="end">2</text>
<line x1="240.70" y1="622.20" x2="244.00" y2="622.20" stroke="#000" stroke-width="1.1"/>
<text transform="translate(238.80 625.00) scale(0.95 1)" font-size="8.5" text-anchor="end">4</text>
<line x1="240.70" y1="606.70" x2="244.00" y2="606.70" stroke="#000" stroke-width="1.1"/>
<text transform="translate(238.80 609.50) scale(0.95 1)" font-size="8.5" text-anchor="end">6</text>
<line x1="240.70" y1="591.20" x2="244.00" y2="591.20" stroke="#000" stroke-width="1.1"/>
<text transform="translate(238.80 594.00) scale(0.95 1)" font-size="8.5" text-anchor="end">8</text>
<line x1="240.70" y1="575.70" x2="244.00" y2="575.70" stroke="#000" stroke-width="1.1"/>
<text transform="translate(238.80 578.50) scale(0.95 1)" font-size="8.5" text-anchor="end">10</text>
<line x1="253.10" y1="645.45" x2="253.10" y2="648.43" stroke="#000" stroke-width="1.2"/>
<line x1="249.60" y1="645.45" x2="256.60" y2="645.45" stroke="#000" stroke-width="1.25"/>
<rect x="246.20" y="647.93" width="13.80" height="5.27" fill="#0c0c0c"/>
<line x1="253.10" y1="653.20" x2="253.10" y2="656.20" stroke="#000" stroke-width="1.0"/>
<text transform="translate(256.90 662.90) rotate(-35) scale(0.895 1)" font-size="9.0" text-anchor="end">Control</text>
<line x1="272.20" y1="651.88" x2="272.20" y2="652.77" stroke="#000" stroke-width="1.2"/>
<line x1="268.70" y1="651.88" x2="275.70" y2="651.88" stroke="#000" stroke-width="1.25"/>
<rect x="265.30" y="652.27" width="13.80" height="0.93" fill="#0c0c0c"/>
<line x1="272.20" y1="653.20" x2="272.20" y2="656.20" stroke="#000" stroke-width="1.0"/>
<text transform="translate(276.00 662.90) rotate(-35) scale(0.895 1)" font-size="9.0" text-anchor="end">Pi3k+Jak2 inhs</text>
<line x1="291.30" y1="613.68" x2="291.30" y2="625.41" stroke="#000" stroke-width="1.2"/>
<line x1="287.80" y1="613.68" x2="294.80" y2="613.68" stroke="#000" stroke-width="1.25"/>
<rect x="284.40" y="624.91" width="13.80" height="28.29" fill="#c9c9c9"/>
<line x1="291.30" y1="653.20" x2="291.30" y2="656.20" stroke="#000" stroke-width="1.0"/>
<text transform="translate(295.10 662.90) rotate(-35) scale(0.895 1)" font-size="9.0" text-anchor="end">Il3</text>
<line x1="310.40" y1="647.00" x2="310.40" y2="649.83" stroke="#000" stroke-width="1.2"/>
<line x1="306.90" y1="647.00" x2="313.90" y2="647.00" stroke="#000" stroke-width="1.25"/>
<rect x="303.50" y="649.33" width="13.80" height="3.88" fill="url(#pIl3i)"/>
<line x1="310.40" y1="653.20" x2="310.40" y2="656.20" stroke="#000" stroke-width="1.0"/>
<text transform="translate(314.20 662.90) rotate(-35) scale(0.895 1)" font-size="9.0" text-anchor="end">Il3 + Pi3k+Jak2 inhs</text>
<line x1="329.50" y1="642.12" x2="329.50" y2="644.79" stroke="#000" stroke-width="1.2"/>
<line x1="326.00" y1="642.12" x2="333.00" y2="642.12" stroke="#000" stroke-width="1.25"/>
<rect x="322.60" y="644.29" width="13.80" height="8.91" fill="#696969"/>
<line x1="329.50" y1="653.20" x2="329.50" y2="656.20" stroke="#000" stroke-width="1.0"/>
<text transform="translate(333.30 662.90) rotate(-35) scale(0.895 1)" font-size="9.0" text-anchor="end">Thpo</text>
<line x1="348.60" y1="651.65" x2="348.60" y2="652.54" stroke="#000" stroke-width="1.2"/>
<line x1="345.10" y1="651.65" x2="352.10" y2="651.65" stroke="#000" stroke-width="1.25"/>
<rect x="341.70" y="652.04" width="13.80" height="1.16" fill="url(#pThpoi)"/>
<line x1="348.60" y1="653.20" x2="348.60" y2="656.20" stroke="#000" stroke-width="1.0"/>
<text transform="translate(352.40 662.90) rotate(-35) scale(0.895 1)" font-size="9.0" text-anchor="end">Thpo + Pi3k+Jak2 inhs</text>
<text transform="translate(291.00 613.90) scale(1 1)" font-size="8.2" text-anchor="middle" font-weight="bold">**</text>
<text transform="translate(329.60 643.40) scale(1 1)" font-size="8.2" text-anchor="middle" font-weight="bold">*</text>
<line x1="254.30" y1="636.30" x2="272.00" y2="636.30" stroke="#000" stroke-width="1.3"/>
<line x1="254.30" y1="634.30" x2="254.30" y2="638.30" stroke="#000" stroke-width="1.2"/>
<line x1="272.00" y1="634.30" x2="272.00" y2="638.30" stroke="#000" stroke-width="1.2"/>
<text transform="translate(263.15 636.00) scale(1 1)" font-size="8.2" text-anchor="middle" font-weight="bold">*</text>
<line x1="291.80" y1="603.30" x2="309.50" y2="603.30" stroke="#000" stroke-width="1.3"/>
<line x1="291.80" y1="601.30" x2="291.80" y2="605.30" stroke="#000" stroke-width="1.2"/>
<line x1="309.50" y1="601.30" x2="309.50" y2="605.30" stroke="#000" stroke-width="1.2"/>
<text transform="translate(300.65 603.00) scale(1 1)" font-size="8.2" text-anchor="middle" font-weight="bold">**</text>
<line x1="329.50" y1="632.00" x2="348.00" y2="632.00" stroke="#000" stroke-width="1.3"/>
<line x1="329.50" y1="630.00" x2="329.50" y2="634.00" stroke="#000" stroke-width="1.2"/>
<line x1="348.00" y1="630.00" x2="348.00" y2="634.00" stroke="#000" stroke-width="1.2"/>
<text transform="translate(338.75 631.70) scale(1 1)" font-size="8.2" text-anchor="middle" font-weight="bold">**</text>
<text transform="translate(211.00 610.60) rotate(-90) scale(0.93 1)" font-size="9.2" text-anchor="middle">% ckit+ CD45+ AGM</text>
<text transform="translate(224.70 610.50) rotate(-90) scale(0.93 1)" font-size="9.2" text-anchor="middle">cells</text>
<text transform="translate(374.20 574.10) scale(1 1)" font-size="10" text-anchor="start" font-weight="bold">N</text>
<line x1="425.30" y1="567.50" x2="425.30" y2="653.85" stroke="#000" stroke-width="1.3"/>
<line x1="424.65" y1="653.20" x2="513.30" y2="653.20" stroke="#000" stroke-width="1.3"/>
<line x1="422.00" y1="653.20" x2="425.30" y2="653.20" stroke="#000" stroke-width="1.1"/>
<text transform="translate(419.10 656.00) scale(0.95 1)" font-size="8.5" text-anchor="end">0</text>
<line x1="422.00" y1="637.40" x2="425.30" y2="637.40" stroke="#000" stroke-width="1.1"/>
<text transform="translate(419.10 640.20) scale(0.95 1)" font-size="8.5" text-anchor="end">10</text>
<line x1="422.00" y1="621.60" x2="425.30" y2="621.60" stroke="#000" stroke-width="1.1"/>
<text transform="translate(419.10 624.40) scale(0.95 1)" font-size="8.5" text-anchor="end">20</text>
<line x1="422.00" y1="605.80" x2="425.30" y2="605.80" stroke="#000" stroke-width="1.1"/>
<text transform="translate(419.10 608.60) scale(0.95 1)" font-size="8.5" text-anchor="end">30</text>
<line x1="422.00" y1="590.00" x2="425.30" y2="590.00" stroke="#000" stroke-width="1.1"/>
<text transform="translate(419.10 592.80) scale(0.95 1)" font-size="8.5" text-anchor="end">40</text>
<line x1="422.00" y1="574.20" x2="425.30" y2="574.20" stroke="#000" stroke-width="1.1"/>
<text transform="translate(419.10 577.00) scale(0.95 1)" font-size="8.5" text-anchor="end">50</text>
<line x1="432.70" y1="612.12" x2="432.70" y2="637.40" stroke="#000" stroke-width="1.25"/>
<line x1="430.20" y1="612.12" x2="435.20" y2="612.12" stroke="#000" stroke-width="1.25"/>
<line x1="430.20" y1="637.40" x2="435.20" y2="637.40" stroke="#000" stroke-width="1.25"/>
<circle cx="432.70" cy="624.76" r="2.0" fill="#111"/>
<line x1="432.70" y1="653.20" x2="432.70" y2="656.20" stroke="#000" stroke-width="1.0"/>
<text transform="translate(436.50 662.90) rotate(-35) scale(0.895 1)" font-size="9.0" text-anchor="end">Control</text>
<line x1="447.20" y1="635.82" x2="447.20" y2="642.93" stroke="#000" stroke-width="1.25"/>
<line x1="444.70" y1="635.82" x2="449.70" y2="635.82" stroke="#000" stroke-width="1.25"/>
<line x1="444.70" y1="642.93" x2="449.70" y2="642.93" stroke="#000" stroke-width="1.25"/>
<rect x="445.20" y="637.45" width="4.0" height="4.0" fill="#111"/>
<line x1="447.20" y1="653.20" x2="447.20" y2="656.20" stroke="#000" stroke-width="1.0"/>
<text transform="translate(451.00 662.90) rotate(-35) scale(0.895 1)" font-size="9.0" text-anchor="end">Pi3k+Jak2 inhs</text>
<line x1="461.70" y1="615.75" x2="461.70" y2="638.66" stroke="#000" stroke-width="1.25"/>
<line x1="459.20" y1="615.75" x2="464.20" y2="615.75" stroke="#000" stroke-width="1.25"/>
<line x1="459.20" y1="638.66" x2="464.20" y2="638.66" stroke="#000" stroke-width="1.25"/>
<path d="M459.90 629.72L463.50 629.72L461.70 626.12Z" fill="#111"/>
<line x1="461.70" y1="653.20" x2="461.70" y2="656.20" stroke="#000" stroke-width="1.0"/>
<text transform="translate(465.50 662.90) rotate(-35) scale(0.895 1)" font-size="9.0" text-anchor="end">Il3</text>
<line x1="476.20" y1="621.28" x2="476.20" y2="646.88" stroke="#000" stroke-width="1.25"/>
<line x1="473.70" y1="621.28" x2="478.70" y2="621.28" stroke="#000" stroke-width="1.25"/>
<line x1="473.70" y1="646.88" x2="478.70" y2="646.88" stroke="#000" stroke-width="1.25"/>
<path d="M474.40 631.18L478.00 631.18L476.20 634.78Z" fill="#111"/>
<line x1="476.20" y1="653.20" x2="476.20" y2="656.20" stroke="#000" stroke-width="1.0"/>
<text transform="translate(480.00 662.90) rotate(-35) scale(0.895 1)" font-size="9.0" text-anchor="end">Il3 + Pi3k+Jak2 inhs</text>
<line x1="490.70" y1="612.12" x2="490.70" y2="629.50" stroke="#000" stroke-width="1.25"/>
<line x1="488.20" y1="612.12" x2="493.20" y2="612.12" stroke="#000" stroke-width="1.25"/>
<line x1="488.20" y1="629.50" x2="493.20" y2="629.50" stroke="#000" stroke-width="1.25"/>
<path d="M488.50 620.49L490.70 618.29L492.90 620.49L490.70 622.69Z" fill="#111"/>
<line x1="490.70" y1="653.20" x2="490.70" y2="656.20" stroke="#000" stroke-width="1.0"/>
<text transform="translate(494.50 662.90) rotate(-35) scale(0.895 1)" font-size="9.0" text-anchor="end">Thpo</text>
<line x1="505.20" y1="616.86" x2="505.20" y2="638.66" stroke="#000" stroke-width="1.25"/>
<line x1="502.70" y1="616.86" x2="507.70" y2="616.86" stroke="#000" stroke-width="1.25"/>
<line x1="502.70" y1="638.66" x2="507.70" y2="638.66" stroke="#000" stroke-width="1.25"/>
<circle cx="505.20" cy="627.45" r="2.6" fill="#111"/>
<line x1="505.20" y1="653.20" x2="505.20" y2="656.20" stroke="#000" stroke-width="1.0"/>
<text transform="translate(509.00 662.90) rotate(-35) scale(0.895 1)" font-size="9.0" text-anchor="end">Thpo + Pi3k+Jak2 inhs</text>
<text transform="translate(394.00 611.00) rotate(-90) scale(0.93 1)" font-size="9.2" text-anchor="middle">Average AGM cells</text>
<text transform="translate(406.50 611.50) rotate(-90) scale(0.99 1)" font-size="9.2" text-anchor="middle">×10<tspan font-size="6.4" dy="-3.2">5</tspan><tspan dy="3.2">/ml</tspan></text>
</g>
<rect x="0" y="0" width="520" height="1.1" fill="#111"/><rect x="0" y="0" width="1.1" height="720" fill="#111"/><rect x="518.8" y="0" width="1.2" height="720" fill="#111"/><rect x="0" y="718.5" width="520" height="1.5" fill="#111"/>
</svg>
</body></html>
